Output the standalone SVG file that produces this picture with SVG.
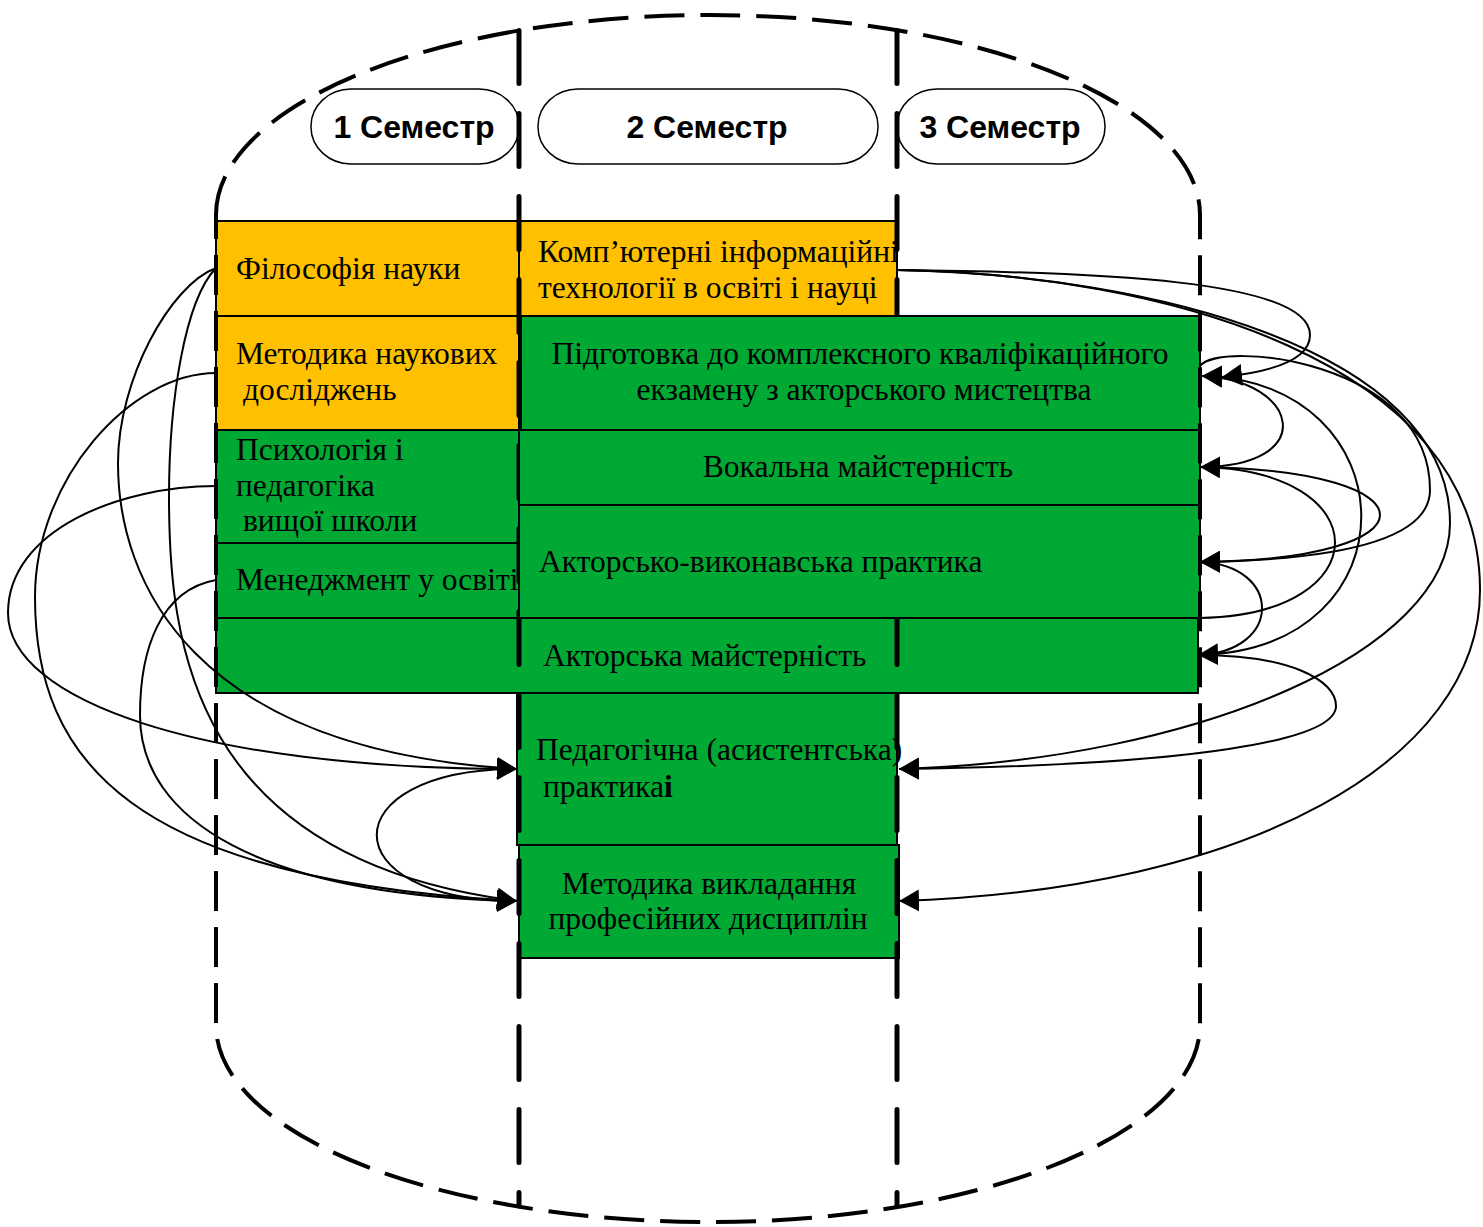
<svg xmlns="http://www.w3.org/2000/svg" width="1483" height="1227" viewBox="0 0 1483 1227">
<defs>
<style>
.box{stroke:#000;stroke-width:2}
.y{fill:#FFC000}
.g{fill:#00A933}
.t{font-family:"Liberation Serif","Times New Roman",serif;font-size:31.5px;fill:#000}
.s{font-family:"Liberation Sans",Arial,sans-serif;font-size:32px;font-weight:bold;fill:#000}
.pill{fill:#fff;stroke:#000;stroke-width:1.5}
.c{fill:none;stroke:#000;stroke-width:2;marker-end:url(#ah)}
.mid{fill:none;stroke:#000;stroke-width:5;stroke-dasharray:53 30;stroke-linecap:round}
.outer{fill:none;stroke:#000;stroke-width:4;stroke-dasharray:40 16}
</style>
<marker id="ah" markerUnits="userSpaceOnUse" markerWidth="22" markerHeight="22" refX="20" refY="11" orient="auto" viewBox="0 0 22 22">
<path d="M0,0 L20,11 L0,22 Z" fill="#000"/>
</marker>
</defs>
<rect width="1483" height="1227" fill="#fff"/>

<g id="sem1"><rect class="pill" x="311" y="89" width="208" height="75" rx="40" ry="37"/><text class="s" x="414" y="138" text-anchor="middle">1 Семестр</text></g>
<g id="sem2"><rect class="pill" x="538" y="89" width="340" height="75" rx="40" ry="37"/><text class="s" x="707" y="138" text-anchor="middle">2 Семестр</text></g>
<g id="sem3"><rect class="pill" x="897" y="89" width="208" height="75" rx="40" ry="37"/><text class="s" x="1000" y="138" text-anchor="middle">3 Семестр</text></g>

<g id="n-aktorska"><rect class="box g" x="216" y="618" width="982" height="75"/><text class="t" x="543" y="666">Акторська майстерність</text></g>
<g id="n-filosofiia"><rect class="box y" x="216" y="221" width="303" height="95"/><text class="t" x="236" y="279">Філософія науки</text></g>
<g id="n-komp"><rect class="box y" x="519" y="221" width="378" height="95"/><text class="t" x="538" y="262">Комп’ютерні інформаційні</text><text class="t" x="538" y="298">технології в освіті і науці</text></g>
<g id="n-metodyka-nauk"><rect class="box y" x="216" y="316" width="303" height="114"/><text class="t" x="236" y="364">Методика наукових</text><text class="t" x="243" y="400">досліджень</text></g>
<g id="n-psykholohiia"><rect class="box g" x="216" y="430" width="303" height="113"/><text class="t" x="236" y="460">Психологія і</text><text class="t" x="236" y="496">педагогіка</text><text class="t" x="243" y="531">вищої школи</text></g>
<g id="n-menedzhment"><rect class="box g" x="216" y="543" width="303" height="75"/><text class="t" x="236" y="590">Менеджмент у освіті</text></g>
<g id="n-pedpraktyka"><rect class="box g" x="517" y="693" width="380" height="152"/><text class="t" x="536" y="760">Педагогічна (асистентська)</text><text class="t" x="543" y="797">практика<tspan font-weight="bold">і</tspan></text></g>
<g id="n-metodyka-vykl"><rect class="box g" x="519" y="845" width="380" height="113"/><text class="t" x="709" y="894" text-anchor="middle">Методика викладання</text><text class="t" x="708" y="929" text-anchor="middle">професійних дисциплін</text></g>

<g id="semester-lines">
<line class="mid" x1="519" y1="30.5" x2="519" y2="1206"/>
<line class="mid" x1="897" y1="30.5" x2="897" y2="1206"/>
</g>

<g id="n-pidhotovka"><rect class="box g" x="521" y="316" width="679" height="114"/><text class="t" x="860" y="364" text-anchor="middle">Підготовка до комплексного кваліфікаційного</text><text class="t" x="864" y="400" text-anchor="middle">екзамену з акторського мистецтва</text></g>
<g id="n-vokalna"><rect class="box g" x="519" y="430" width="681" height="75"/><text class="t" x="858" y="477" text-anchor="middle">Вокальна майстерність</text></g>
<g id="n-aktorsko-vyk"><rect class="box g" x="519" y="505" width="681" height="113"/><text class="t" x="539" y="572">Акторсько-виконавська практика</text></g>

<g id="outline">
<path class="outer" d="M216,215 A494,200 0 0 1 710,15 A490,200 0 0 1 1200,215 L1200,1025 A490,197 0 0 1 710,1222 A494,197 0 0 1 216,1025 Z"/>
</g>

<g id="connectors">
<path class="c" d="M216,268 C170,285 118,380 118,463 C118,580 190,750 517,769"/>
<path class="c" d="M216,268 C185,300 169,400 169,497 C169,640 190,860 517,901"/>
<path class="c" d="M216,373 C130,373 35,480 35,597 C35,760 130,880 517,901"/>
<path class="c" d="M216,486 C120,486 8,530 8,613 C8,700 200,769 517,769"/>
<path class="c" d="M216,580 C160,590 140,650 140,715 C140,820 260,895 517,901"/>
<path class="c" d="M517,769 C330,769 330,901 517,901"/>
<path class="c" d="M897,270 C1100,272 1310,280 1310,335 C1310,360 1270,372 1222,377"/>
<path class="c" d="M897,270 C1150,275 1450,350 1450,523 C1450,650 1200,760 899,769"/>
<path class="c" d="M897,270 C1160,274 1480,360 1480,590 C1480,760 1250,890 899,901"/>
<path class="c" d="M1200,366 C1220,340 1430,360 1430,490 C1430,540 1340,560 1200,562"/>
<path class="c" d="M1200,467 C1320,467 1300,380 1202,376"/>
<path class="c" d="M1200,618 C1380,615 1380,470 1200,467"/>
<path class="c" d="M1200,467 C1440,470 1440,560 1200,562"/>
<path class="c" d="M1200,562 C1283,565 1283,652 1198,655"/>
<path class="c" d="M1198,655 C1420,650 1410,380 1202,376"/>
<path class="c" d="M1198,655 C1290,655 1336,680 1336,706 C1336,740 1200,765 899,769"/>
</g>
</svg>
